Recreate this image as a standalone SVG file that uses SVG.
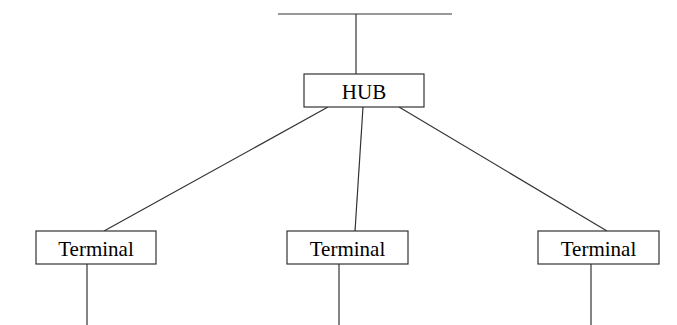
<svg xmlns="http://www.w3.org/2000/svg" width="677" height="325" viewBox="0 0 677 325">
<style>
.box{fill:#fff;stroke:#333;stroke-width:1.2}
.ln{stroke:#333;stroke-width:1.2;fill:none}
text{font-family:"Liberation Serif","Times New Roman",serif;font-size:21px;fill:#000;text-anchor:middle}
</style>
<rect width="677" height="325" fill="#fff"/>
<g id="connectors">
<line class="ln" x1="278" y1="14" x2="452" y2="14"/>
<line class="ln" x1="356" y1="14" x2="356" y2="74"/>
<line class="ln" x1="328" y1="107" x2="104" y2="231"/>
<line class="ln" x1="363" y1="107" x2="355" y2="231"/>
<line class="ln" x1="399" y1="107" x2="607" y2="231"/>
<line class="ln" x1="87" y1="264" x2="87" y2="325"/>
<line class="ln" x1="339" y1="264" x2="339" y2="325"/>
<line class="ln" x1="591" y1="264" x2="591" y2="325"/>
</g>
<g id="hub">
<rect class="box" x="304" y="74" width="120" height="33"/>
<text x="364" y="99">HUB</text>
</g>
<g id="terminal1">
<rect class="box" x="36" y="231" width="120" height="33"/>
<text x="96" y="256">Terminal</text>
</g>
<g id="terminal2">
<rect class="box" x="287" y="231" width="121" height="33"/>
<text x="347.5" y="256">Terminal</text>
</g>
<g id="terminal3">
<rect class="box" x="538" y="231" width="121" height="33"/>
<text x="598.5" y="256">Terminal</text>
</g>
</svg>
